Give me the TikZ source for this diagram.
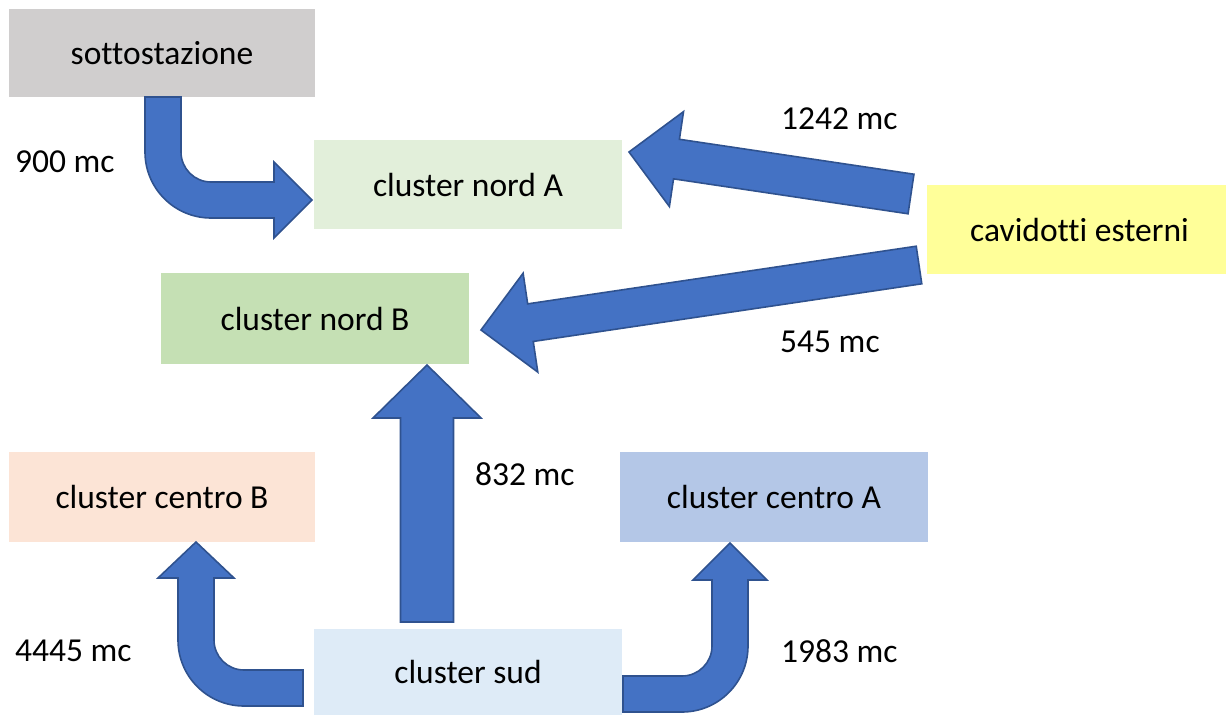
\documentclass[tikz,border=0pt]{standalone}
\usepackage{fontspec}
\setmainfont[Ligatures=NoCommon]{Carlito}
\usetikzlibrary{calc}
\definecolor{arrfill}{HTML}{4472C4}
\definecolor{arrline}{HTML}{2F528F}
\definecolor{cgray}{HTML}{D0CECE}
\definecolor{cnordA}{HTML}{E2EFDA}
\definecolor{cnordB}{HTML}{C5E0B4}
\definecolor{ccav}{HTML}{FFFF99}
\definecolor{ccentroB}{HTML}{FCE4D6}
\definecolor{ccentroA}{HTML}{B4C7E7}
\definecolor{csud}{HTML}{DEEBF7}
\newcommand{\straightblock}[5]{% tail, tip, shaft half, head half, head length
  \coordinate (hb) at ($(#2)!#5!(#1)$);
  \path[blockarrow] ($(#1)!#3!90:(#2)$) -- ($(hb)!#3!-90:(#1)$) -- ($(hb)!#4!-90:(#1)$)
    -- (#2) -- ($(hb)!#4!90:(#1)$) -- ($(hb)!#3!90:(#1)$) -- ($(#1)!#3!-90:(#2)$) -- cycle;
}
\begin{document}
\begin{tikzpicture}[x=1pt,y=-1pt,
  box/.style={rectangle, inner sep=0pt, font=\fontsize{33.5}{40}\selectfont},
  lbl/.style={inner sep=0pt, anchor=west, font=\fontsize{33.5}{40}\selectfont},
  blockarrow/.style={fill=arrfill, draw=arrline, line width=1.6pt, line join=miter}]
\useasboundingbox (0,0) rectangle (1226,715);
% boxes
\node[box, fill=cgray, minimum width=306pt, minimum height=88pt] (sotto) at (162,53) {sottostazione};
\node[box, fill=cnordA, minimum width=308pt, minimum height=89pt] (nordA) at (468,184.5) {cluster nord A};
\node[box, fill=ccav, minimum width=299pt, minimum height=89pt] (cav) at (1076.5,229.5) {\hspace{6pt}cavidotti esterni};
\node[box, fill=cnordB, minimum width=308pt, minimum height=91pt] (nordB) at (315,318.5) {cluster nord B};
\node[box, fill=ccentroB, minimum width=306pt, minimum height=90pt] (centroB) at (162,497) {cluster centro B};
\node[box, fill=ccentroA, minimum width=308pt, minimum height=90pt] (centroA) at (774,497) {cluster centro A};
\node[box, fill=csud, minimum width=308pt, minimum height=86pt] (sud) at (468,672) {cluster sud};
% bent arrow sottostazione -> nord A
\path[blockarrow] (145,97) -- (145,152) arc[start angle=180, end angle=90, radius=66]
  -- (274,218) -- (274,238) -- (312,200) -- (274,162) -- (274,182) -- (211,182)
  arc[start angle=90, end angle=180, radius=30] -- (181,97) -- cycle;
% straight arrows from cavidotti
\coordinate (t1) at (911,194); \coordinate (p1) at (629,152);
\straightblock{t1}{p1}{20pt}{48pt}{48pt}
\coordinate (t2) at (919,265); \coordinate (p2) at (481,330);
\straightblock{t2}{p2}{19pt}{50pt}{50pt}
% vertical arrow sud -> nord B
\path[blockarrow] (400.5,622) -- (400.5,418) -- (373,418) -- (427,365) -- (481,418)
  -- (453.5,418) -- (453.5,622) -- cycle;
% bent arrow sud -> centro B
\path[blockarrow] (303,670) -- (244,670) arc[start angle=90, end angle=180, radius=30]
  -- (214,578) -- (234,578) -- (196,542) -- (158,578) -- (178,578) -- (178,640)
  arc[start angle=180, end angle=90, radius=66] -- (303,706) -- cycle;
% bent arrow sud -> centro A
\path[blockarrow] (623,676) -- (682,676) arc[start angle=90, end angle=0, radius=30]
  -- (712,580) -- (693,580) -- (730,543) -- (767,580) -- (748,580) -- (748,646)
  arc[start angle=0, end angle=90, radius=66] -- (623,712) -- cycle;
% labels
\node[lbl] (l900) at (15,162) {900 mc};
\node[lbl] (l1242) at (781,119) {1242 mc};
\node[lbl] (l545) at (780,342) {545 mc};
\node[lbl] (l832) at (475,474) {832 mc};
\node[lbl] (l4445) at (15,651) {4445 mc};
\node[lbl] (l1983) at (781,651) {1983 mc};
\end{tikzpicture}
\end{document}
